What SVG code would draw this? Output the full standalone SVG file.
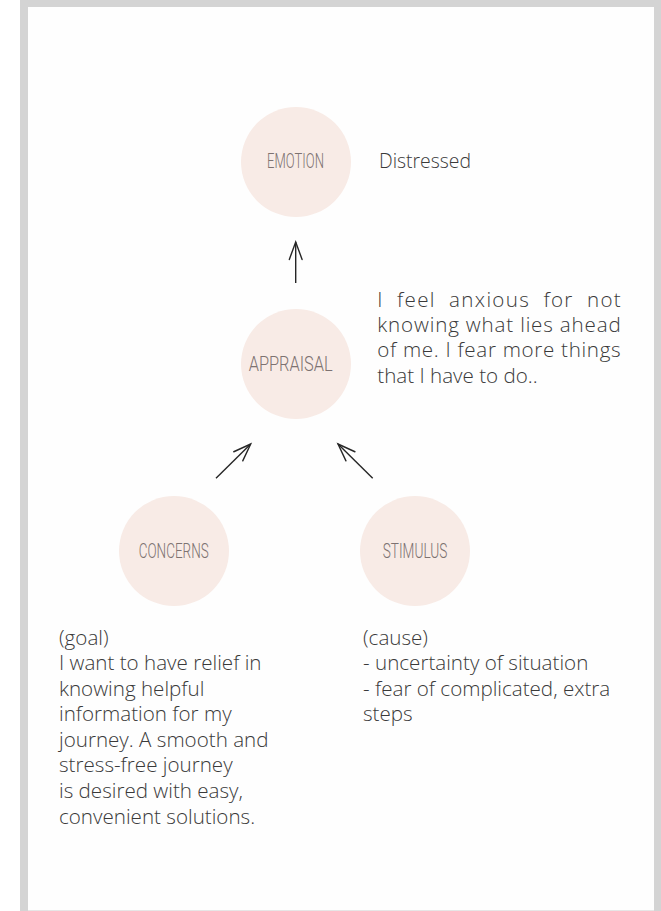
<svg xmlns="http://www.w3.org/2000/svg" width="661" height="911" viewBox="0 0 661 911">
  <defs>
    <marker id="open-head" markerUnits="userSpaceOnUse" markerWidth="40" markerHeight="40" refX="0" refY="0" orient="auto" overflow="visible">
      <path d="M-17.5,-6.4 L0,0 L-17.5,6.4" fill="none" stroke="#262626" stroke-width="1.4" stroke-linecap="round" stroke-linejoin="miter"/>
    </marker>
  </defs>
  <style>
    .node { fill: #f8ebe6; }
    .label { font-family: Roboto, "Liberation Sans", sans-serif; font-weight: 300; font-size: 19.5px; fill: #7d7271; text-anchor: middle; }
    .body { font-family: "Open Sans", "Liberation Sans", sans-serif; font-weight: 300; font-size: 20.6px; fill: #3a3a3a; }
    .edge { stroke: #262626; stroke-width: 1.4; fill: none; marker-end: url(#open-head); }
  </style>

  <!-- page frame -->
  <rect x="0" y="0" width="661" height="911" fill="#ffffff"/>
  <rect x="20" y="0" width="641" height="911" fill="#d4d4d4"/>
  <rect x="28" y="7" width="626" height="903" fill="#fefefe"/>
  <rect x="28" y="910" width="626" height="1" fill="#e6e6e6"/>

  <!-- connectors -->
  <g id="connectors">
    <line class="edge" x1="295.7" y1="283" x2="295.7" y2="242"/>
    <line class="edge" x1="216" y1="478.3" x2="250.7" y2="444"/>
    <line class="edge" x1="372.7" y1="478.3" x2="338" y2="444"/>
  </g>

  <g id="emotion">
    <circle class="node" cx="296" cy="162" r="55"/>
    <text class="label" x="295.5" y="168" textLength="57" lengthAdjust="spacingAndGlyphs">EMOTION</text>
    <text class="body" x="379" y="168" textLength="92" lengthAdjust="spacingAndGlyphs">Distressed</text>
  </g>

  <g id="appraisal">
    <circle class="node" cx="296" cy="364" r="55"/>
    <text class="label" x="290.7" y="371" textLength="84" lengthAdjust="spacingAndGlyphs">APPRAISAL</text>
    <!-- justified paragraph -->
    <text class="body">
      <tspan x="377.3" y="307" word-spacing="6.5" textLength="243.4" lengthAdjust="spacing">I feel anxious for not</tspan>
      <tspan x="377.3" y="332" textLength="243.4" lengthAdjust="spacing">knowing what lies ahead</tspan>
      <tspan x="377.3" y="357" textLength="243.4" lengthAdjust="spacing">of me. I fear more things</tspan>
      <tspan x="377.3" y="383">that I have to do..</tspan>
    </text>
  </g>

  <g id="concerns">
    <circle class="node" cx="174" cy="551" r="55"/>
    <text class="label" x="173.7" y="558" textLength="70" lengthAdjust="spacingAndGlyphs">CONCERNS</text>
    <text class="body">
      <tspan x="59" y="644.5">(goal)</tspan>
      <tspan x="59" y="670">I want to have relief in</tspan>
      <tspan x="59" y="695.6">knowing helpful</tspan>
      <tspan x="59" y="721.2">information for my</tspan>
      <tspan x="59" y="746.8">journey. A smooth and</tspan>
      <tspan x="59" y="772.4">stress-free journey</tspan>
      <tspan x="59" y="798">is desired with easy,</tspan>
      <tspan x="59" y="823.6">convenient solutions.</tspan>
    </text>
  </g>

  <g id="stimulus">
    <circle class="node" cx="415" cy="551" r="55"/>
    <text class="label" x="415" y="558" textLength="64.7" lengthAdjust="spacingAndGlyphs">STIMULUS</text>
    <text class="body">
      <tspan x="363" y="644.5">(cause)</tspan>
      <tspan x="363" y="670">- uncertainty of situation</tspan>
      <tspan x="363" y="695.6">- fear of complicated, extra</tspan>
      <tspan x="363" y="721.2">steps</tspan>
    </text>
  </g>
</svg>
